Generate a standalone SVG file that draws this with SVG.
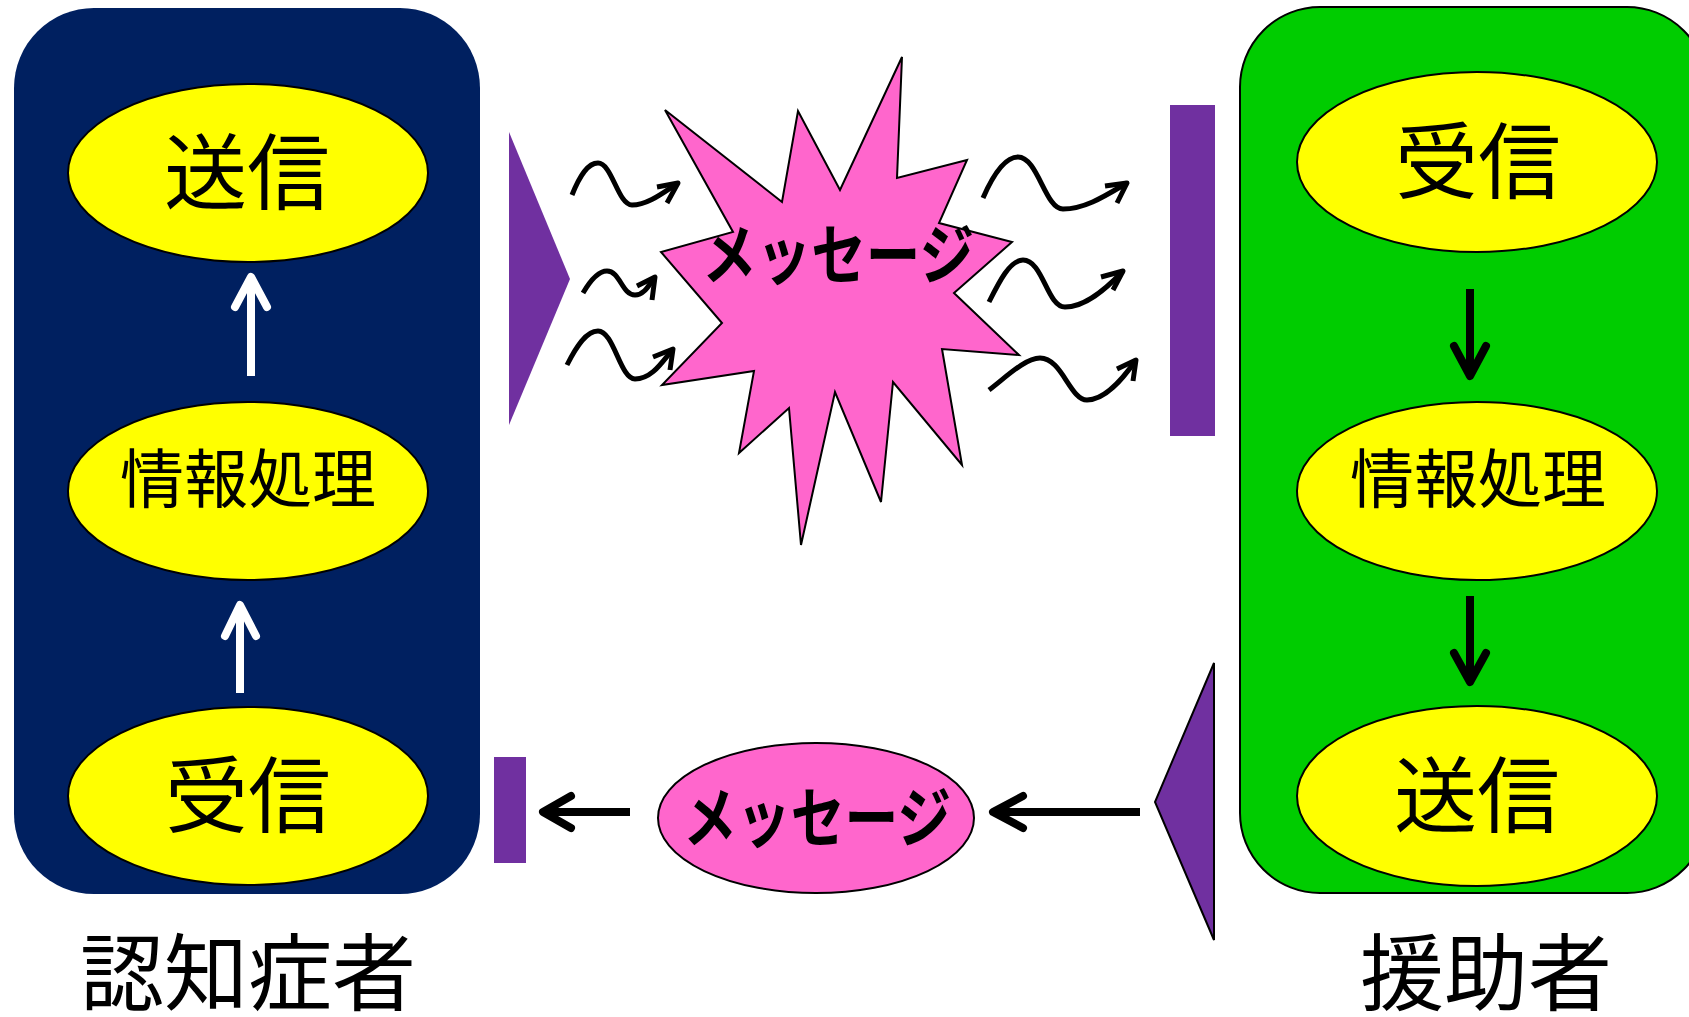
<svg xmlns="http://www.w3.org/2000/svg" width="1689" height="1017" viewBox="0 0 1689 1017">
  <style>
    .jp { font-family: "Noto Sans CJK JP", "Noto Sans CJK SC", sans-serif; fill: #000; text-anchor: middle; }
    .big { font-size: 83px; }
    .mid { font-size: 64px; }
    .msg { font-size: 66px; font-weight: 700; }
    .label { font-size: 84px; }
    .node { fill: #FFFF00; stroke: #000; stroke-width: 2; }
    .wave { fill: none; stroke: #000; stroke-width: 5; stroke-linecap: butt; stroke-linejoin: round; }
    .white { fill: none; stroke: #FFF; stroke-width: 8; stroke-linejoin: round; }
    .black { fill: none; stroke: #000; stroke-width: 8; stroke-linejoin: round; }
    .head { stroke-linecap: round; }
    .bar { fill: #7030A0; }
  </style>

  <!-- person with dementia -->
  <g id="patient">
    <rect x="14" y="8" width="466" height="886" rx="80" ry="80" fill="#002060"/>
    <text class="jp label" x="248" y="1004">認知症者</text>
  </g>
  <g id="patient-send">
    <ellipse class="node" cx="248" cy="173" rx="180" ry="89"/>
    <text class="jp big" x="247" y="203">送信</text>
  </g>
  <g id="patient-process">
    <ellipse class="node" cx="248" cy="491" rx="180" ry="89"/>
    <text class="jp mid" x="248" y="502">情報処理</text>
  </g>
  <g id="patient-receive">
    <ellipse class="node" cx="248" cy="796" rx="180" ry="89"/>
    <text class="jp big" x="248" y="826">受信</text>
  </g>

  <!-- caregiver -->
  <g id="caregiver">
    <rect x="1240" y="7" width="467" height="886" rx="80" ry="80" fill="#00CC00" stroke="#000" stroke-width="2"/>
    <text class="jp label" x="1486" y="1004">援助者</text>
  </g>
  <g id="caregiver-receive">
    <ellipse class="node" cx="1477" cy="162" rx="180" ry="90"/>
    <text class="jp big" x="1478" y="192">受信</text>
  </g>
  <g id="caregiver-process">
    <ellipse class="node" cx="1477" cy="491" rx="180" ry="89"/>
    <text class="jp mid" x="1478" y="502">情報処理</text>
  </g>
  <g id="caregiver-send">
    <ellipse class="node" cx="1477" cy="796" rx="180" ry="90"/>
    <text class="jp big" x="1477" y="826">送信</text>
  </g>

  <!-- outgoing message burst -->
  <g id="burst">
    <polygon points="665,110 782,202 798,111 840,190 902,57 897,178 967,160 939,223 1012,242 954,293 1019,355 942,349 962,465 893,382 881,502 835,392 801,545 789,408 739,453 754,371 662,385 722,323 661,252 733,232" fill="#FF66CC" stroke="#000" stroke-width="2"/>
    <text class="jp msg" x="838" y="279" textLength="272" lengthAdjust="spacingAndGlyphs">メッセージ</text>
  </g>

  <!-- returning message -->
  <g id="reply">
    <ellipse cx="816" cy="818" rx="158" ry="75" fill="#FF66CC" stroke="#000" stroke-width="2"/>
    <text class="jp msg" x="817" y="842" textLength="268" lengthAdjust="spacingAndGlyphs">メッセージ</text>
  </g>

  <!-- emitter / barrier shapes -->
  <g id="emit-left">
    <polygon class="bar" points="509,132 570,279 509,425"/>
  </g>
  <g id="barrier-right">
    <rect class="bar" x="1170" y="105" width="45" height="331"/>
  </g>
  <g id="emit-right">
    <polygon class="bar" points="1214,663 1155,802 1214,940" stroke="#000" stroke-width="2"/>
  </g>
  <g id="barrier-left">
    <rect class="bar" x="494" y="757" width="32" height="106"/>
  </g>

  <g id="connectors">
    <!-- inner flow, left column (upwards) -->
    <line class="white" x1="251" y1="376" x2="251" y2="278"/>
    <polyline class="white head" points="235,307 251,277 267,307"/>
    <line class="white" x1="240" y1="693" x2="240" y2="606"/>
    <polyline class="white head" points="225,636 240,605 256,636"/>

    <!-- inner flow, right column (downwards) -->
    <line class="black" x1="1470" y1="289" x2="1470" y2="374"/>
    <polyline class="black head" points="1454,346 1470,376 1486,346"/>
    <line class="black" x1="1470" y1="596" x2="1470" y2="680"/>
    <polyline class="black head" points="1454,653 1470,682 1486,653"/>

    <!-- reply path -->
    <line class="black" x1="1140" y1="812" x2="995" y2="812"/>
    <polyline class="black head" points="1023,796 993,812 1023,828"/>
    <line class="black" x1="630" y1="812" x2="545" y2="812"/>
    <polyline class="black head" points="571,796 543,812 571,828"/>

    <!-- wavy emissions, left side -->
    <path class="wave" d="M572,195 C580,175 588,163 598,163 C612,163 618,205 632,205 C648,205 664,192 678,183"/>
    <polyline class="wave" points="657,187 678,183 667,203"/>
    <path class="wave" d="M583,293 C590,281 598,271 607,271 C620,271 622,295 635,295 C645,295 650,283 655,277"/>
    <polyline class="wave" points="637,286 655,277 652,300"/>
    <path class="wave" d="M567,365 C576,347 586,331 598,331 C614,331 620,379 635,379 C652,379 662,362 673,349"/>
    <polyline class="wave" points="653,357 673,349 670,370"/>

    <!-- wavy emissions, right side -->
    <path class="wave" d="M983,198 C993,175 1005,157 1018,157 C1038,157 1045,209 1063,209 C1085,209 1105,196 1127,183"/>
    <polyline class="wave" points="1105,186 1127,183 1117,203"/>
    <path class="wave" d="M989,302 C999,282 1010,260 1023,260 C1043,260 1047,307 1065,307 C1085,307 1105,290 1123,271"/>
    <polyline class="wave" points="1101,277 1123,271 1113,290"/>
    <path class="wave" d="M989,390 C1005,378 1025,358 1040,358 C1062,358 1070,400 1087,400 C1105,400 1122,380 1136,360"/>
    <polyline class="wave" points="1117,369 1136,360 1133,381"/>
  </g>
</svg>
